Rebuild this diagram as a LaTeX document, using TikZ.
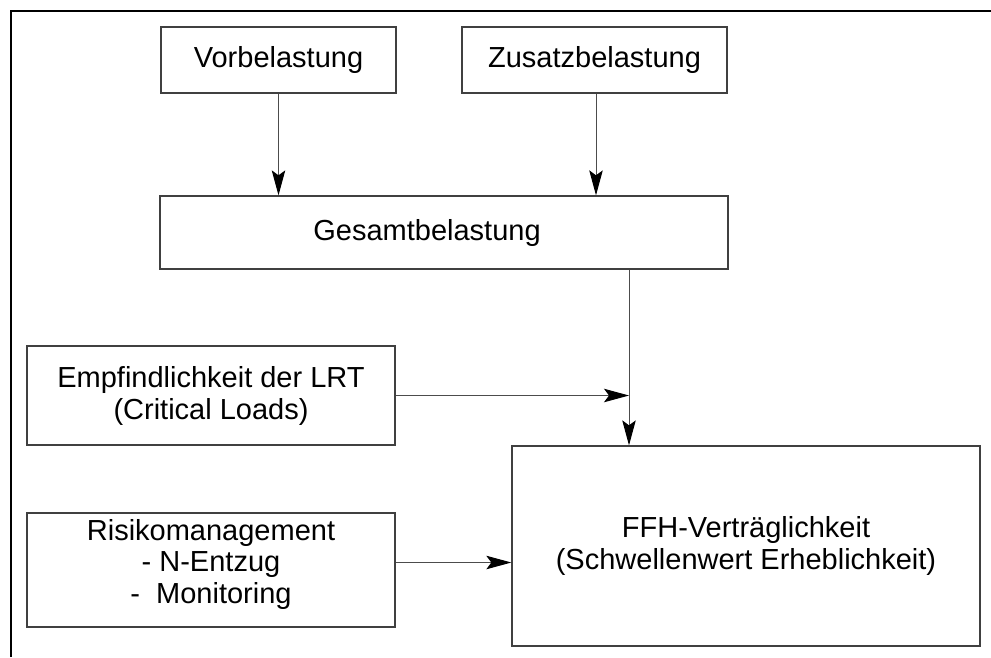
\documentclass[tikz,border=0pt]{standalone}
\usepackage{fontspec}
\setmainfont{Liberation Sans}
\usetikzlibrary{arrows.meta}
\tikzset{
  boxbase/.style={draw=black!75, line width=1.3pt, inner sep=0pt,
    font=\fontsize{29}{32}\selectfont},
  box/.style={boxbase, align=center},
  arr/.style={draw=black!70, line width=1pt,
    -{Stealth[length=25pt,width=13.5pt,inset=5pt,color=black,fill=black]}},
  frame/.style={draw=black, line width=2.6pt}
}
\begin{document}
\begin{tikzpicture}[x=1pt,y=-1pt]
\useasboundingbox (0,0) rectangle (991,657);
% frame
\draw[frame] (11,657) -- (11,11) -- (992,11);
% boxes
\node[box, minimum width=235, minimum height=66] (V) at (278.5,60) {Vorbelastung};
\node[box, minimum width=265, minimum height=66] (Z) at (594.5,60) {Zusatzbelastung};
\node[box, minimum width=568, minimum height=73] (G) at (444,232.5) {Gesamtbelastung\hspace{34pt}};
\node[box, minimum width=368, minimum height=99] (E) at (211,395.5) {Empfindlichkeit der LRT\\(Critical Loads)};
\node[boxbase, minimum width=368, minimum height=114, font=\fontsize{29}{31.5}\selectfont] (R) at (211,570)
  {\raisebox{4.5pt}[\height][\depth]{\begin{tabular}{@{}c@{}}Risikomanagement\\- N-Entzug\\-\ \ Monitoring\end{tabular}}};
\node[box, minimum width=468, minimum height=200] (F) at (746,546) {FFH-Verträglichkeit\\(Schwellenwert Erheblichkeit)};
% connectors
\draw[arr] (V.south) -- (V.south |- G.north);
\draw[arr] ([xshift=1.5pt]Z.south) -- ([xshift=1.5pt]Z.south |- G.north);
\coordinate (gs) at ([xshift=185pt]G.south);
\draw[arr] (gs) -- (gs |- F.north);
\draw[arr] (E.east) -- (E.east -| gs);
\draw[arr] ([yshift=7.5pt]R.east) -- ([yshift=7.5pt]R.east -| F.west);
\end{tikzpicture}
\end{document}
